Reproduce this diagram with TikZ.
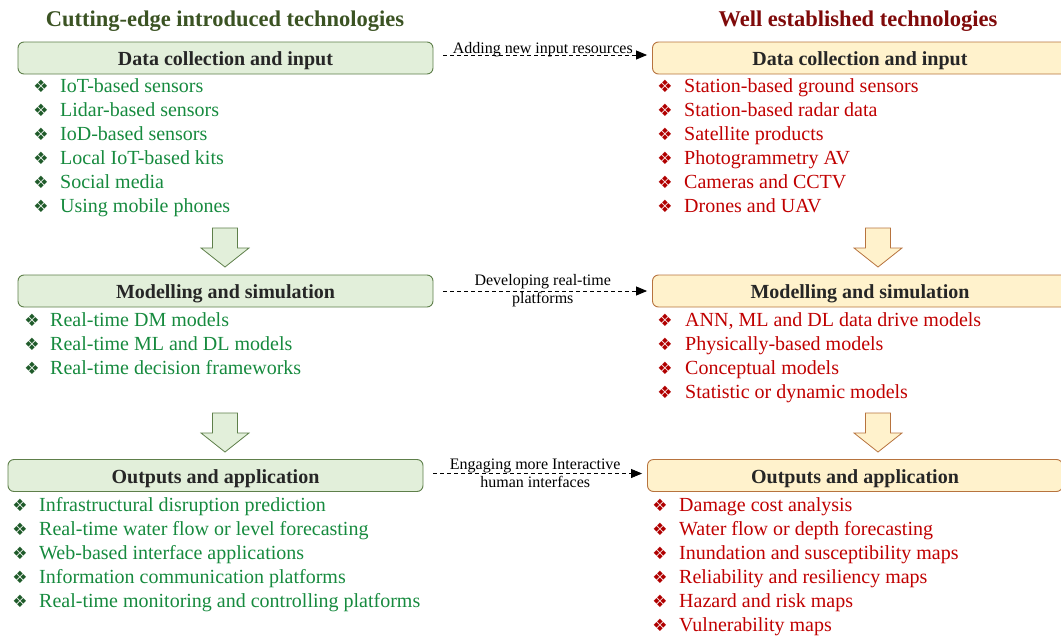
\documentclass[tikz,border=0pt]{standalone}
\usepackage{fontspec}
\setmainfont{Liberation Serif}
\newfontfamily\dingfont{DejaVu Sans}
\usetikzlibrary{arrows.meta}

\definecolor{newhead}{HTML}{3B5323}
\definecolor{oldhead}{HTML}{7F0A0A}
\definecolor{newfill}{HTML}{E2EFDA}
\definecolor{newline}{HTML}{5E7F4A}
\definecolor{oldfill}{HTML}{FFF2CC}
\definecolor{oldline}{HTML}{B7733E}
\definecolor{newtext}{HTML}{168A3E}
\definecolor{oldtext}{HTML}{C00000}
\definecolor{newbul}{HTML}{1F5B2A}
\definecolor{oldbul}{HTML}{B00000}
\definecolor{titletext}{HTML}{262626}

\newcommand{\bul}{{\dingfont\symbol{"2756}}}

\begin{document}
\begin{tikzpicture}[x=1pt,y=-1pt,
  head/.style={font=\fontsize{22.5}{26}\selectfont\bfseries},
  stage/.style={draw,rounded corners=6pt,minimum width=415pt,minimum height=32pt,line width=0.9pt,
    text height=15pt,text depth=0pt,font=\fontsize{20}{24}\selectfont\bfseries,text=titletext},
  newstage/.style={stage,fill=newfill,draw=newline},
  oldstage/.style={stage,fill=oldfill,draw=oldline},
  item/.style={anchor=base west,inner sep=0pt,font=\fontsize{20}{24}\selectfont},
  dot/.style={inner sep=0pt,font=\fontsize{17}{17}\selectfont},
  link/.style={dash pattern=on 4pt off 3pt,line width=0.8pt,-{Triangle[length=11pt,width=9pt]},
    shorten <=10pt,shorten >=5pt},
  note/.style={font=\fontsize{16}{18}\selectfont,align=center,inner sep=0pt},
  downarrow/.pic={\path[pic actions] (-12.5,0) -- (12.5,0) -- (12.5,20) -- (24,20) -- (0,39)
    -- (-24,20) -- (-12.5,20) -- cycle;}
]
  \useasboundingbox (0,0) rectangle (1061,635);
  \clip (0,0) rectangle (1061,635);

  % column headings
  \node[head,text=newhead] (hn) at (225,21) {Cutting-edge introduced technologies};
  \node[head,text=oldhead] (ho) at (858,21) {Well established technologies};

  % stages
  \node[newstage] (n1) at (225.5,58) {Data collection and input};
  \node[newstage] (n2) at (225.5,291) {Modelling and simulation};
  \node[newstage] (n3) at (215.5,475.5) {Outputs and application};
  \node[oldstage] (o1) at (860,58) {Data collection and input};
  \node[oldstage] (o2) at (860,291) {Modelling and simulation};
  \node[oldstage] (o3) at (855,475.5) {Outputs and application};

  % block arrows between stages
  \pic[draw=newline,fill=newfill,line width=0.8pt] at (225,228) {downarrow};
  \pic[draw=newline,fill=newfill,line width=0.8pt] at (225,413) {downarrow};
  \pic[draw=oldline,fill=oldfill,line width=0.8pt] at (878,228) {downarrow};
  \pic[draw=oldline,fill=oldfill,line width=0.8pt] at (878,413) {downarrow};

  % links across
  \draw[link] ([yshift=3pt]n1.east) -- ([yshift=3pt]o1.west)
    node[note,midway,above=-2pt] (a1) {Adding new input resources};
  \draw[link] (n2.east) -- (o2.west)
    node[note,midway] (a2) {Developing real-time\\platforms};
  \draw[link] ([yshift=2pt]n3.east) -- ([yshift=2pt]o3.west)
    node[note,midway] (a3) {Engaging more Interactive\\human interfaces};

  % item lists, new technologies
  \foreach \t [count=\i] in {IoT-based sensors,Lidar-based sensors,IoD-based sensors,
      Local IoT-based kits,Social media,Using mobile phones} {
    \node[dot,text=newbul] (n1b\i) at (41,62+24*\i) {\bul};
    \node[item,text=newtext] (n1i\i) at (60,68+24*\i) {\t};
  }
  \foreach \t [count=\i] in {Real-time DM models,Real-time ML and DL models,
      Real-time decision frameworks} {
    \node[dot,text=newbul] (n2b\i) at (32,296+24*\i) {\bul};
    \node[item,text=newtext] (n2i\i) at (50,302+24*\i) {\t};
  }
  \foreach \t [count=\i] in {Infrastructural disruption prediction,
      Real-time water flow or level forecasting,Web-based interface applications,
      Information communication platforms,Real-time monitoring and controlling platforms} {
    \node[dot,text=newbul] (n3b\i) at (20,481+24*\i) {\bul};
    \node[item,text=newtext] (n3i\i) at (39,487+24*\i) {\t};
  }

  % item lists, established technologies
  \foreach \t [count=\i] in {Station-based ground sensors,Station-based radar data,
      Satellite products,Photogrammetry AV,Cameras and CCTV,Drones and UAV} {
    \node[dot,text=oldbul] (o1b\i) at (665,62+24*\i) {\bul};
    \node[item,text=oldtext] (o1i\i) at (684,68+24*\i) {\t};
  }
  \foreach \t [count=\i] in {{ANN, ML and DL data drive models},Physically-based models,
      Conceptual models,Statistic or dynamic models} {
    \node[dot,text=oldbul] (o2b\i) at (665,296+24*\i) {\bul};
    \node[item,text=oldtext] (o2i\i) at (685,302+24*\i) {\t};
  }
  \foreach \t [count=\i] in {Damage cost analysis,Water flow or depth forecasting,
      Inundation and susceptibility maps,Reliability and resiliency maps,
      Hazard and risk maps,Vulnerability maps} {
    \node[dot,text=oldbul] (o3b\i) at (660,481+24*\i) {\bul};
    \node[item,text=oldtext] (o3i\i) at (679,487+24*\i) {\t};
  }
\end{tikzpicture}
\end{document}
